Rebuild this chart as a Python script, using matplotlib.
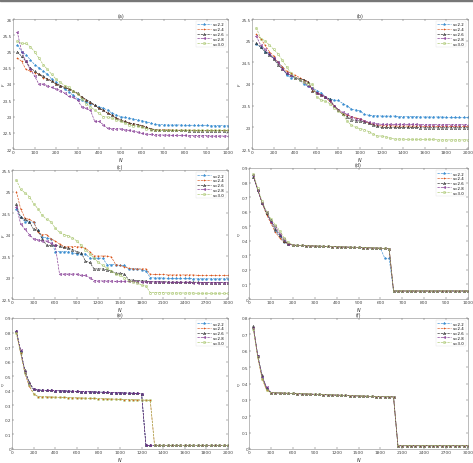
import numpy as np
import matplotlib
matplotlib.use("Agg")
from matplotlib import pyplot as plt
from matplotlib.patches import Rectangle

labels = ["v=2.2", "v=2.4", "v=2.6", "v=2.8", "v=3.0"]

# (a) N = 20..1000
n_a = np.arange(20, 1001, 20)
a_22 = [25.2, 25.0, 24.9, 24.75, 24.6, 24.5, 24.4, 24.3, 24.15, 24.05, 23.95, 23.85, 23.75, 23.65, 23.55,
        23.5, 23.45, 23.4, 23.35, 23.3, 23.25, 23.2, 23.1, 23.05, 23.0, 22.97, 22.95, 22.92, 22.9, 22.87,
        22.84, 22.8, 22.76, 22.75, 22.75, 22.74, 22.74, 22.74, 22.74, 22.73, 22.73, 22.73, 22.73, 22.73,
        22.73, 22.72, 22.72, 22.72, 22.72, 22.72]
a_24 = [24.8, 24.7, 24.45, 24.4, 24.35, 24.3, 24.2, 24.15, 24.1, 24.0, 23.95, 23.9, 23.85, 23.78, 23.7,
        23.6, 23.5, 23.42, 23.35, 23.25, 23.2, 23.1, 23.05, 22.95, 22.9, 22.85, 22.8, 22.78, 22.75, 22.72,
        22.68, 22.62, 22.6, 22.6, 22.59, 22.59, 22.59, 22.58, 22.58, 22.58, 22.58, 22.58, 22.57, 22.57,
        22.57, 22.57, 22.57, 22.57, 22.57, 22.57]
a_26 = [25.0, 24.85, 24.7, 24.5, 24.4, 24.3, 24.25, 24.15, 24.1, 24.0, 23.95, 23.9, 23.85, 23.8, 23.72,
        23.6, 23.52, 23.45, 23.35, 23.25, 23.2, 23.1, 23.05, 22.95, 22.9, 22.85, 22.8, 22.78, 22.75, 22.72,
        22.68, 22.62, 22.6, 22.58, 22.58, 22.57, 22.57, 22.57, 22.57, 22.57, 22.56, 22.56, 22.56, 22.56,
        22.56, 22.56, 22.56, 22.56, 22.56, 22.56]
a_28 = [25.6, 25.0, 24.7, 24.45, 24.25, 24.0, 24.0, 23.95, 23.9, 23.85, 23.8, 23.72, 23.62, 23.6, 23.5,
        23.3, 23.25, 23.2, 22.85, 22.85, 22.75, 22.64, 22.63, 22.62, 22.62, 22.6, 22.57, 22.55, 22.52, 22.48,
        22.46, 22.45, 22.44, 22.43, 22.43, 22.43, 22.42, 22.42, 22.42, 22.42, 22.41, 22.41, 22.41, 22.41,
        22.41, 22.4, 22.4, 22.4, 22.4, 22.4]
a_30 = [25.32, 25.25, 25.25, 25.15, 25.0, 24.8, 24.6, 24.45, 24.3, 24.15, 24.05, 23.95, 23.9, 23.78, 23.7,
        23.55, 23.4, 23.3, 23.2, 23.1, 23.0, 22.98, 22.95, 22.9, 22.85, 22.8, 22.75, 22.72, 22.7, 22.67,
        22.63, 22.6, 22.58, 22.57, 22.57, 22.57, 22.57, 22.57, 22.57, 22.57, 22.57, 22.57, 22.57, 22.57,
        22.57, 22.57, 22.57, 22.57, 22.57, 22.57]

# (b) N = 40..2000
n_b = np.arange(40, 2001, 40)
b_22 = [24.92, 24.85, 24.75, 24.7, 24.6, 24.5, 24.4, 24.2, 24.15, 24.15, 24.1, 24.0, 23.95, 23.9, 23.85,
        23.8, 23.7, 23.65, 23.63, 23.62, 23.55, 23.5, 23.42, 23.4, 23.38, 23.3, 23.28, 23.27, 23.27, 23.26,
        23.26, 23.26, 23.26, 23.25, 23.25, 23.25, 23.25, 23.25, 23.24, 23.24, 23.24, 23.24, 23.24, 23.24,
        23.23, 23.23, 23.23, 23.23, 23.23, 23.23]
b_24 = [25.15, 25.05, 24.9, 24.75, 24.65, 24.5, 24.4, 24.3, 24.25, 24.2, 24.15, 24.1, 24.05, 23.85, 23.8,
        23.75, 23.7, 23.6, 23.5, 23.4, 23.3, 23.28, 23.25, 23.22, 23.2, 23.15, 23.1, 23.07, 23.05, 23.04,
        23.04, 23.04, 23.03, 23.03, 23.03, 23.03, 23.03, 23.03, 23.03, 23.02, 23.02, 23.02, 23.02, 23.02,
        23.02, 23.02, 23.02, 23.02, 23.02, 23.02]
b_26 = [24.95, 24.85, 24.75, 24.68, 24.58, 24.45, 24.35, 24.25, 24.2, 24.15, 24.12, 24.1, 24.05, 23.85, 23.8,
        23.75, 23.7, 23.65, 23.5, 23.4, 23.3, 23.25, 23.18, 23.15, 23.15, 23.12, 23.1, 23.05, 23.02, 23.0,
        23.0, 23.0, 23.0, 23.0, 23.0, 23.0, 23.0, 23.0, 22.99, 22.99, 22.99, 22.99, 22.99, 22.99,
        22.99, 22.99, 22.99, 22.99, 22.99, 22.99]
b_28 = [25.1, 24.9, 24.8, 24.7, 24.6, 24.5, 24.35, 24.25, 24.2, 24.15, 24.1, 24.05, 23.95, 23.9, 23.8,
        23.75, 23.7, 23.6, 23.5, 23.4, 23.35, 23.3, 23.25, 23.2, 23.2, 23.15, 23.12, 23.1, 23.08, 23.07,
        23.07, 23.07, 23.07, 23.07, 23.07, 23.07, 23.07, 23.07, 23.06, 23.06, 23.06, 23.06, 23.06, 23.06,
        23.06, 23.06, 23.06, 23.06, 23.06, 23.06]
b_30 = [25.3, 25.05, 25.0, 24.9, 24.8, 24.7, 24.55, 24.4, 24.25, 24.15, 24.1, 24.05, 24.0, 24.0, 23.7,
        23.63, 23.6, 23.55, 23.45, 23.38, 23.3, 23.15, 23.05, 23.0, 22.97, 22.95, 22.9, 22.85, 22.8, 22.8,
        22.78, 22.75, 22.73, 22.73, 22.73, 22.72, 22.72, 22.72, 22.72, 22.72, 22.72, 22.72, 22.71, 22.71,
        22.71, 22.71, 22.71, 22.71, 22.71, 22.71]

# (c) N = 60..3000
n_c = np.arange(60, 3001, 60)
c_22 = [24.6, 24.4, 24.3, 24.3, 24.28, 24.1, 23.95, 23.92, 23.9, 23.6, 23.6, 23.6, 23.6, 23.58, 23.55,
        23.55, 23.55, 23.45, 23.45, 23.45, 23.45, 23.3, 23.3, 23.3, 23.28, 23.28, 23.2, 23.2, 23.2, 23.18,
        23.15, 23.0, 22.99, 22.99, 22.99, 22.98, 22.98, 22.98, 22.98, 22.98, 22.98, 22.97, 22.97, 22.97,
        22.97, 22.97, 22.97, 22.97, 22.97, 22.97]
c_24 = [25.0, 24.6, 24.38, 24.35, 24.3, 24.05, 24.0, 24.0, 23.9, 23.85, 23.78, 23.72, 23.72, 23.72, 23.72,
        23.7, 23.68, 23.6, 23.5, 23.5, 23.5, 23.5, 23.48, 23.3, 23.28, 23.25, 23.22, 23.2, 23.2, 23.2,
        23.2, 23.08, 23.07, 23.07, 23.07, 23.06, 23.06, 23.06, 23.06, 23.06, 23.06, 23.06, 23.05, 23.05,
        23.05, 23.05, 23.05, 23.05, 23.05, 23.05]
c_26 = [24.7, 24.4, 24.35, 24.3, 24.12, 24.1, 23.9, 23.75, 23.75, 23.75, 23.73, 23.7, 23.68, 23.65, 23.6,
        23.58, 23.38, 23.35, 23.2, 23.2, 23.2, 23.18, 23.15, 23.1, 23.1, 23.08, 22.95, 22.94, 22.93, 22.93,
        22.92, 22.9, 22.9, 22.9, 22.9, 22.9, 22.89, 22.89, 22.89, 22.89, 22.89, 22.89, 22.89, 22.88,
        22.88, 22.88, 22.88, 22.88, 22.88, 22.88]
c_28 = [24.65, 24.25, 24.12, 24.0, 23.9, 23.88, 23.85, 23.85, 23.8, 23.75, 23.08, 23.08, 23.08, 23.08, 23.08,
        23.05, 23.05, 23.0, 22.93, 22.92, 22.92, 22.92, 22.92, 22.91, 22.91, 22.91, 22.91, 22.91, 22.9, 22.9,
        22.9, 22.9, 22.9, 22.9, 22.89, 22.89, 22.89, 22.89, 22.89, 22.89, 22.89, 22.88, 22.88, 22.88,
        22.88, 22.88, 22.88, 22.88, 22.88, 22.88]
c_30 = [25.27, 25.05, 24.97, 24.88, 24.72, 24.6, 24.45, 24.35, 24.3, 24.15, 24.05, 24.0, 23.97, 23.92, 23.85,
        23.75, 23.65, 23.55, 23.45, 23.35, 23.28, 23.22, 23.15, 23.08, 23.05, 23.0, 22.93, 22.9, 22.88, 22.82,
        22.8, 22.65, 22.65, 22.65, 22.65, 22.64, 22.64, 22.64, 22.64, 22.64, 22.64, 22.64, 22.63, 22.63,
        22.63, 22.63, 22.63, 22.63, 22.63, 22.63]

# (d) N = 20..1000
n_d = np.arange(20, 1001, 20)
d_plateau = [0.370, 0.369, 0.368, 0.366, 0.365, 0.364, 0.363, 0.362, 0.361, 0.360, 0.359, 0.358,
             0.357, 0.356, 0.355, 0.354, 0.353, 0.352, 0.351, 0.350, 0.349, 0.347, 0.345]
d_tail = [0.055] * 18
d_22 = [0.85, 0.75, 0.66, 0.59, 0.53, 0.47, 0.43, 0.39, 0.38] + d_plateau[:-2] + [0.28, 0.28] + d_tail
d_24 = [0.85, 0.75, 0.66, 0.58, 0.52, 0.46, 0.42, 0.39, 0.38] + d_plateau + d_tail
d_26 = [0.84, 0.75, 0.66, 0.59, 0.54, 0.48, 0.44, 0.40, 0.38] + d_plateau + d_tail
d_28 = [0.85, 0.75, 0.66, 0.60, 0.53, 0.50, 0.45, 0.41, 0.38] + d_plateau + d_tail
d_30 = [0.86, 0.76, 0.67, 0.60, 0.55, 0.51, 0.47, 0.42, 0.39] + d_plateau + d_tail

# (e) N = 40..2000
n_e = np.arange(40, 2001, 40)
e_high = [0.405, 0.404, 0.403, 0.402, 0.401, 0.400, 0.399, 0.398, 0.397, 0.396, 0.395, 0.394, 0.393,
          0.392, 0.391, 0.390, 0.389, 0.388, 0.387, 0.386, 0.385, 0.384, 0.383, 0.382, 0.380]
e_low = [0.360, 0.359, 0.358, 0.357, 0.356, 0.355, 0.354, 0.353, 0.352, 0.351, 0.350, 0.349, 0.348, 0.347,
         0.346, 0.345, 0.344, 0.343, 0.342, 0.341, 0.340, 0.339, 0.338, 0.337, 0.336, 0.335, 0.335]
e_22 = [0.81, 0.67, 0.53, 0.45, 0.41] + e_high + [0.025] * 20
e_24 = [0.80, 0.66, 0.52, 0.43, 0.38] + e_low + [0.025] * 18
e_26 = [0.81, 0.67, 0.54, 0.46, 0.41] + e_high + [0.025] * 20
e_28 = [0.81, 0.68, 0.53, 0.45, 0.41] + e_high + [0.025] * 20
e_30 = [0.80, 0.66, 0.52, 0.44, 0.38] + e_low + [0.025] * 18

# (f) N = 60..3000
n_f = np.arange(60, 3001, 60)
f_plateau = [0.343, 0.342, 0.341, 0.340, 0.339, 0.338, 0.337, 0.336, 0.335, 0.334, 0.333, 0.332, 0.331,
             0.330, 0.329, 0.328, 0.327, 0.326, 0.325, 0.324, 0.323, 0.322, 0.321, 0.320, 0.320, 0.319,
             0.319, 0.318]
f_22 = [0.74, 0.57, 0.44, 0.37, 0.345] + f_plateau + [0.02] * 17
f_24 = [0.74, 0.56, 0.43, 0.36, 0.345] + f_plateau + [0.02] * 17
f_26 = [0.75, 0.57, 0.45, 0.37, 0.345] + f_plateau + [0.02] * 17
f_28 = [0.74, 0.57, 0.44, 0.38, 0.345] + f_plateau + [0.02] * 17
f_30 = [0.73, 0.56, 0.43, 0.36, 0.344] + f_plateau + [0.02] * 17

colors = ["#3d8fd1", "#d95319", "#2b2b2b", "#7e2f8e", "#a6c46a"]
markers = ["*", "+", "^", "<", "o"]

panels = [
    ("(a)", n_a, [a_22, a_24, a_26, a_28, a_30], (0, 1000), np.arange(0, 1001, 100), (22, 26), np.arange(22, 26.01, 0.5), "$F$",
     [13, 20, 228, 150]),
    ("(b)", n_b, [b_22, b_24, b_26, b_28, b_30], (0, 2000), np.arange(0, 2001, 200), (22.5, 25.5), np.arange(22.5, 25.51, 0.5), "$F$",
     [252, 20, 468, 150]),
    ("(c)", n_c, [c_22, c_24, c_26, c_28, c_30], (0, 3000), np.arange(0, 3001, 300), (22.5, 25.5), np.arange(22.5, 25.51, 0.5), "$F$",
     [12, 171, 228, 300]),
    ("(d)", n_d, [d_22, d_24, d_26, d_28, d_30], (0, 1000), np.arange(0, 1001, 100), (0, 0.9), np.arange(0, 0.91, 0.1), r"$\eta$",
     [249, 169, 468, 300]),
    ("(e)", n_e, [e_22, e_24, e_26, e_28, e_30], (0, 2000), np.arange(0, 2001, 200), (0, 0.9), np.arange(0, 0.91, 0.1), r"$\eta$",
     [12, 319, 228, 450]),
    ("(f)", n_f, [f_22, f_24, f_26, f_28, f_30], (0, 3000), np.arange(0, 3001, 300), (0, 0.8), np.arange(0, 0.81, 0.1), r"$\eta$",
     [249, 319, 468, 450]),
]

W, H = 473, 464
fig = plt.figure(figsize=(W / 100, H / 100), dpi=100)
fig.patches.append(Rectangle((0, 1 - 2 / H), 1, 2 / H, transform=fig.transFigure, color="#777777"))

for title, n, series, xl, xt, yl, yt, ylab, box in panels:
    x0, y0, x1, y1 = box
    ax = fig.add_axes([x0 / W, 1 - y1 / H, (x1 - x0) / W, (y1 - y0) / H])
    for s, c, m, lab in zip(series, colors, markers, labels):
        ax.plot(n, s, linestyle="--", color=c, marker=m, markersize=1.6, lw=0.45,
                markerfacecolor="none" if m in "o^<" else c, markeredgewidth=0.4, label=lab)
    ax.set_xlim(*xl)
    ax.set_ylim(*yl)
    ax.set_xticks(xt)
    ax.set_yticks(yt)
    ax.set_xticklabels([f"{v:g}" for v in xt])
    ax.set_yticklabels([f"{v:g}" for v in np.round(yt, 2)])
    ax.tick_params(direction="in", length=1.5, width=0.3, labelsize=3.2, pad=1,
                   top=True, right=True, colors="#444444")
    ax.tick_params(axis="y", labelsize=3.0, pad=0.6)
    for sp in ax.spines.values():
        sp.set_linewidth(0.4)
        sp.set_color("#888888")
    ax.set_title(title, fontsize=3.5, pad=1.5, color="#333333")
    ax.set_xlabel("$N$", fontsize=3.5, labelpad=0.5, color="#333333")
    ax.set_ylabel(ylab, fontsize=3.0, color="#333333", va="center")
    # y label sits a few pixels from the left edge of each column
    lab_px = 3.5 if x0 < 100 else 239.5
    ax.yaxis.set_label_coords((lab_px - x0) / (x1 - x0), 0.5)
    leg = ax.legend(loc="upper right", fontsize=2.8, frameon=True, handlelength=3.5,
                    borderpad=0.4, labelspacing=0.2, handletextpad=0.5)
    leg.get_frame().set_linewidth(0.3)
    leg.get_frame().set_edgecolor("#dddddd")

fig.savefig("out.png", dpi=100)
